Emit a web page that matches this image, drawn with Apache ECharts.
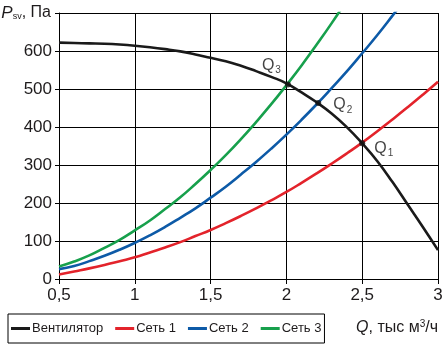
<!DOCTYPE html>
<html><head><meta charset="utf-8">
<script src="https://cdn.jsdelivr.net/npm/echarts@6/dist/echarts.min.js"></script>
<style>html,body{margin:0;padding:0;background:#fff}#c{width:445px;height:346px}</style>
</head><body><div id="c"></div>
<script>
var flows = [0.5,0.6,0.7,0.8,0.9,1.0,1.1,1.2,1.3,1.4,1.5,1.6,1.7,1.8,1.9,2.0,2.1,2.2,2.3,2.4,2.5,2.6,2.7,2.8,2.9,3.0];
var fan  = [622,621,620,619,617,614,610,605,599,591,582,573,561,547,532,515,491,465,435,399,357,310,255,196,137,76];
var net1 = [12,20,28,37,47,57,70,83,97,113,129,147,166,186,207,229,253,278,304,331,359,389,420,452,485,519];
var net2 = [26,34,47,61,77,95,115,137,161,186,214,243,275,308,343,380,419,460,503,547,594,642,693,745];
var net3 = [33,46,62,82,103,128,154,184,215,250,287,326,368,413,460,510,562,617,674,734];
var names = ['Вентилятор','Сеть 1','Сеть 2','Сеть 3'];
var opPoints = [[2.01,512,'3'],[2.21,463,'2'],[2.5,357,'1']];
var xTicks = [0.5,1,1.5,2,2.5,3];
var yTicks = [0,100,200,300,400,500,600];

function pairs(v){ return v.map(function(y,i){ return [flows[i], y]; }); }
var TXT = '#1e1b1c';
var FONT = '"Liberation Sans", Arial, Helvetica, sans-serif';
var colors = ['#1a1a1a','#e3232b','#0d5aa7','#17a04c'];
var sets = [fan, net1, net2, net3];
var series = sets.map(function(d,i){
  return {name:names[i], type:'line', data:pairs(d), smooth:true, showSymbol:false, symbol:'none',
    lineStyle:{color:colors[i], width:2.6}, itemStyle:{color:colors[i]}, z: i===0?4:3, clip:true};
});
var labelPos = {'3':[-23,-26],'2':[18,-5],'1':[15,-2]};
series.push({type:'scatter', symbol:'circle', symbolSize:6, itemStyle:{color:'#111', borderWidth:0}, z:5,
  data:opPoints.map(function(p){
    return {value:[p[0],p[1]], name:p[2], label:{show:true, position:labelPos[p[2]]}};
  }),
  label:{show:true, color:'#111', fontFamily:FONT,
    formatter:function(p){ return '{q|Q}{s|'+p.name+'}'; },
    rich:{q:{fontSize:16, color:'#111', fontFamily:FONT}, s:{fontSize:10, color:'#111', fontFamily:FONT, padding:[10,0,0,1]}}
  },
  emphasis:{disabled:true}
});

var chart = echarts.init(document.getElementById('c'), null, {renderer:'canvas'});
chart.setOption({
  animation:false,
  textStyle:{fontFamily:FONT},
  grid:{left:59, right:7, top:13, bottom:67, containLabel:false, outerBoundsMode:'none'},
  xAxis:{type:'value', min:0.5, max:3, interval:0.5,
    name:'{i|Q}{n|, тыс м}{sup|3}{n|/ч}', nameLocation:'end', nameGap:0,
    nameTextStyle:{align:'right', verticalAlign:'top', padding:[40,0,0,0],
      rich:{i:{fontSize:16, fontStyle:'italic', color:TXT, fontFamily:FONT},
            n:{fontSize:16, color:TXT, fontFamily:FONT},
            sup:{fontSize:10, color:TXT, fontFamily:FONT, padding:[0,0,8,0]}}},
    axisLine:{show:true, lineStyle:{color:'#000', width:1}},
    axisTick:{show:true, inside:false, length:5, lineStyle:{color:'#000'}},
    axisLabel:{margin:8, fontSize:17, color:TXT, fontFamily:FONT,
      formatter:function(v){ return xTicks.indexOf(v)>=0 ? String(v).replace('.',',') : ''; }},
    splitLine:{show:true, lineStyle:{color:'#000', width:1}}
  },
  yAxis:{type:'value', min:0, max:700, interval:100,
    name:'{i|P}{s|sv}{n|, Па}', nameLocation:'end', nameGap:0,
    nameTextStyle:{align:'right', verticalAlign:'middle', padding:[0,8,0,0],
      rich:{i:{fontSize:17, fontStyle:'italic', color:TXT, fontFamily:FONT},
            s:{fontSize:9, color:TXT, fontFamily:FONT, padding:[8,0,0,0]},
            n:{fontSize:16, color:TXT, fontFamily:FONT}}},
    axisLine:{show:true, lineStyle:{color:'#000', width:1}},
    axisTick:{show:true, inside:false, length:4, lineStyle:{color:'#000'}},
    axisLabel:{margin:7, fontSize:17, color:TXT, fontFamily:FONT,
      formatter:function(v){ return yTicks.indexOf(v)>=0 ? String(v) : ''; }},
    splitLine:{show:true, lineStyle:{color:'#000', width:1}}
  },
  legend:{show:true, data:names, left:8, top:314, orient:'horizontal',
    borderColor:'#000', borderWidth:1, padding:[8,3,8,3], itemGap:12,
    itemWidth:19, itemHeight:3, icon:'rect',
    textStyle:{fontSize:13, color:TXT, fontFamily:FONT, padding:[0,0,0,-3]}
  },
  series:series
});
</script></body></html>
